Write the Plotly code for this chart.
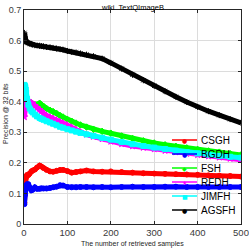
import plotly.graph_objects as go

samples = [1, 2, 3, 4, 5, 7, 10, 13, 17, 20, 25, 30, 36, 40, 45, 52, 60, 67, 75, 83, 90,
           100, 110, 120, 130, 144, 160, 180, 200, 225, 250, 275, 300, 325, 350, 375, 400,
           425, 450, 475, 500]

csgh = [0.07, 0.11, 0.13, 0.15, 0.155, 0.16, 0.16, 0.165, 0.172, 0.175, 0.178, 0.185, 0.191,
        0.188, 0.183, 0.177, 0.172, 0.171, 0.174, 0.177, 0.177, 0.173, 0.168, 0.17, 0.172,
        0.175, 0.172, 0.171, 0.172, 0.17, 0.168, 0.166, 0.165, 0.164, 0.163, 0.162, 0.161,
        0.159, 0.158, 0.157, 0.155]
bgdh = [0.065, 0.095, 0.11, 0.12, 0.125, 0.13, 0.13, 0.12, 0.11, 0.112, 0.12, 0.115, 0.115,
        0.117, 0.116, 0.116, 0.118, 0.12, 0.122, 0.127, 0.126, 0.121, 0.12, 0.12, 0.121,
        0.121, 0.12, 0.121, 0.12, 0.121, 0.122, 0.121, 0.121, 0.122, 0.122, 0.121, 0.121,
        0.121, 0.121, 0.121, 0.121]
fsh = [0.41, 0.405, 0.403, 0.40, 0.40, 0.40, 0.40, 0.398, 0.395, 0.393, 0.39, 0.39, 0.395,
       0.39, 0.385, 0.378, 0.372, 0.368, 0.362, 0.355, 0.35, 0.342, 0.336, 0.33, 0.324,
       0.317, 0.31, 0.303, 0.297, 0.288, 0.28, 0.272, 0.265, 0.259, 0.254, 0.249, 0.244,
       0.239, 0.235, 0.23, 0.226]
rfdh = [0.35, 0.375, 0.39, 0.398, 0.40, 0.402, 0.40, 0.399, 0.397, 0.393, 0.387, 0.38, 0.374,
        0.368, 0.362, 0.355, 0.349, 0.345, 0.34, 0.334, 0.33, 0.323, 0.316, 0.308, 0.3,
        0.293, 0.286, 0.278, 0.27, 0.262, 0.255, 0.25, 0.245, 0.24, 0.235, 0.23, 0.226,
        0.222, 0.218, 0.214, 0.21]
jimfh = [0.455, 0.452, 0.448, 0.44, 0.43, 0.41, 0.39, 0.378, 0.37, 0.365, 0.358, 0.352, 0.347,
         0.344, 0.341, 0.336, 0.332, 0.328, 0.323, 0.318, 0.315, 0.31, 0.306, 0.302, 0.298,
         0.293, 0.288, 0.282, 0.276, 0.268, 0.261, 0.255, 0.25, 0.245, 0.24, 0.235, 0.231,
         0.227, 0.223, 0.22, 0.217]
agsfh = [0.625, 0.612, 0.603, 0.598, 0.596, 0.594, 0.592, 0.59, 0.588, 0.587, 0.585, 0.584,
         0.583, 0.582, 0.581, 0.579, 0.578, 0.576, 0.574, 0.572, 0.57, 0.566, 0.563, 0.561,
         0.558, 0.554, 0.549, 0.541, 0.527, 0.508, 0.488, 0.47, 0.452, 0.434, 0.416, 0.399,
         0.383, 0.369, 0.356, 0.343, 0.331]

names = ["CSGH", "BGDH", "FSH", "RFDH", "JIMFH", "AGSFH"]
series = [csgh, bgdh, fsh, rfdh, jimfh, agsfh]
colors = ["#ff0000", "#0000ff", "#00ff00", "#ff00ff", "#00ffff", "#000000"]
symbols = ["circle", "circle", "diamond", "star", "square", "asterisk"]
glyphs = ["●", "●", "◆", "★", "■", "●"]

yticks = [0, 0.1, 0.2, 0.3, 0.4, 0.5, 0.6, 0.7]
ytick_text = ["0", "0.1", "0.2", "0.3", "0.4", "0.5", "0.6", "0.7"]
xticks = [0, 100, 200, 300, 400, 500]

FONT = "Liberation Sans, Arial, sans-serif"

fig = go.Figure()
for name, ys, col, sym in zip(names, series, colors, symbols):
    fig.add_trace(go.Scatter(
        x=samples, y=ys, name=name, mode="lines+markers",
        line=dict(color=col, width=5),
        marker=dict(symbol=sym, size=5, color=col, line=dict(color=col, width=1)),
        showlegend=False, hoverinfo="skip",
    ))

L = 24.0
W = 217.0
T = 10.0
H = 214.0
def px(xp):
    return (xp - L) / W
def py(yp):
    return (T + H - yp) / H

row_y = [140, 154, 168, 182, 196, 210]
shapes = []
annotations = []
for name, col, g, ry in zip(names, colors, glyphs, row_y):
    shapes.append(dict(type="line", xref="paper", yref="paper",
                       x0=px(172), x1=px(197), y0=py(ry), y1=py(ry),
                       line=dict(color=col, width=1.5)))
    annotations.append(dict(xref="paper", yref="paper", x=px(184.5), y=py(ry),
                            text=g, showarrow=False, xanchor="center", yanchor="middle",
                            font=dict(color=col, size=6, family="DejaVu Sans")))
    annotations.append(dict(xref="paper", yref="paper", x=px(199), y=py(ry),
                            text=name, showarrow=False, xanchor="left", yanchor="middle",
                            font=dict(color="#000000", size=10, family=FONT)))

annotations.append(dict(xref="paper", yref="paper", x=px(132.5), y=py(7),
                        text="wiki  TextQImageB", showarrow=False,
                        xanchor="center", yanchor="middle",
                        font=dict(size=7.5, color="#000000", family=FONT)))
annotations.append(dict(xref="paper", yref="paper", x=px(132.5), y=py(243.5),
                        text="The number of retrieved samples", showarrow=False,
                        xanchor="center", yanchor="middle",
                        font=dict(size=7, color="#262626", family=FONT)))
annotations.append(dict(xref="paper", yref="paper", x=px(5), y=py(114),
                        text="Precision @ 32 bits", showarrow=False, textangle=-90,
                        xanchor="center", yanchor="middle",
                        font=dict(size=7, color="#262626", family=FONT)))

fig.update_layout(
    width=249, height=248,
    margin=dict(l=24, r=8, t=10, b=24),
    paper_bgcolor="white", plot_bgcolor="white",
    font=dict(family=FONT, color="#262626"),
    shapes=shapes, annotations=annotations,
    showlegend=False, hovermode=False,
)
fig.update_xaxes(
    range=[0, 500], tickvals=xticks, ticks="inside", ticklen=3, tickcolor="#262626",
    showline=True, linecolor="#262626", linewidth=1, mirror="ticks",
    showgrid=True, gridcolor="#dcdcdc", gridwidth=1, zeroline=False,
    tickfont=dict(size=9.5, color="#3a3a3a"), automargin=False,
)
fig.update_yaxes(
    range=[0, 0.7], tickvals=yticks, ticktext=ytick_text, ticks="inside", ticklen=3,
    tickcolor="#262626",
    showline=True, linecolor="#262626", linewidth=1, mirror="ticks",
    showgrid=True, gridcolor="#dcdcdc", gridwidth=1, zeroline=False,
    tickfont=dict(size=9, color="#3a3a3a"), automargin=False,
)

fig.write_html("out.html", config={"displayModeBar": False, "staticPlot": True},
               post_script="document.body.style.margin='0';document.body.style.padding='0';document.body.style.overflow='hidden';")
